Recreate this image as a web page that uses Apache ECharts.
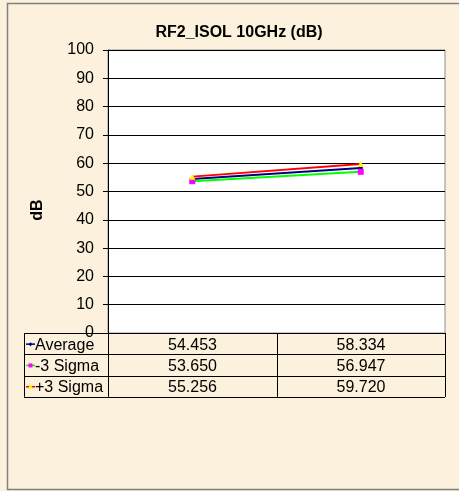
<!DOCTYPE html>
<html>
<head>
<meta charset="utf-8">
<script src="https://cdn.jsdelivr.net/npm/echarts@6/dist/echarts.min.js"></script>
<style>
html,body{margin:0;padding:0;background:#FBF1DC;}
#c{width:459px;height:491px;}
</style>
</head>
<body>
<div id="c"></div>
<script>
var categories = ['1', '2'];
var seriesNames = ['Average', '-3 Sigma', '+3 Sigma'];
var averageValues = [54.453, 58.334];
var minus3SigmaValues = [53.650, 56.947];
var plus3SigmaValues = [55.256, 59.720];
var tableLabels = [['54.453', '58.334'], ['53.650', '56.947'], ['55.256', '59.720']];
var titleText = 'RF2_ISOL 10GHz (dB)';
var yAxisName = 'dB';

var lineColors = ['#000080', '#00FF00', '#FF0000'];
var markerColors = ['#000080', '#FF00FF', '#FFFF00'];
var markerSymbols = ['diamond', 'rect', 'triangle'];
var markerSizes = [5, 6, 6];
var allValues = [averageValues, minus3SigmaValues, plus3SigmaValues];

var FONT = '"Liberation Sans", Arial, sans-serif';
var chart = echarts.init(document.getElementById('c'), null, {renderer: 'canvas'});

var plotLeft = 108, plotRight = 445, plotTop = 50, plotBottom = 333;
var tableLeft = 24, rowH = 21.3;
var midX = (plotLeft + plotRight) / 2 + 0.5;

var series = [];
for (var i = 0; i < 3; i++) {
  series.push({
    name: seriesNames[i],
    type: 'line',
    data: allValues[i],
    symbol: markerSymbols[i],
    symbolSize: markerSizes[i],
    lineStyle: {color: lineColors[i], width: 2},
    itemStyle: {color: markerColors[i]},
    z: 3 + i,
    animation: false
  });
}

var graphics = [];
graphics.push({type: 'rect', shape: {x: 7.5, y: 3.5, width: 470, height: 486}, style: {fill: null, stroke: '#808080', lineWidth: 1.5}, silent: true, z: 0});
graphics.push({type: 'rect', shape: {x: plotLeft, y: plotTop, width: plotRight - plotLeft, height: plotBottom - plotTop}, style: {fill: '#FFFFFF', stroke: '#909090', lineWidth: 1}, silent: true, z: -1});
graphics.push({type: 'text', x: 239, y: 33, style: {text: titleText, font: 'bold 16px ' + FONT, fill: '#000', textAlign: 'center', textVerticalAlign: 'middle'}, z: 10});
graphics.push({type: 'text', x: 38, y: 210, rotation: Math.PI / 2, style: {text: yAxisName, font: 'bold 16px ' + FONT, fill: '#000', textAlign: 'center', textVerticalAlign: 'middle'}, z: 10});

var colEdges = [tableLeft, plotLeft, midX, plotRight];
var tableBottom = plotBottom + rowH * 3;
for (var r = 0; r <= 3; r++) {
  var yy = Math.round(plotBottom + r * rowH) + 0.5;
  graphics.push({type: 'line', shape: {x1: tableLeft, y1: yy, x2: plotRight, y2: yy}, style: {stroke: '#000', lineWidth: 1}, z: 10});
}
for (var c = 0; c < colEdges.length; c++) {
  var xx = Math.round(colEdges[c]) + 0.5;
  graphics.push({type: 'line', shape: {x1: xx, y1: plotBottom, x2: xx, y2: tableBottom}, style: {stroke: '#000', lineWidth: 1}, z: 10});
}
for (var r2 = 0; r2 < 3; r2++) {
  var cy = plotBottom + (r2 + 0.5) * rowH + 0.5;
  graphics.push({type: 'line', shape: {x1: 26, y1: cy, x2: 35, y2: cy}, style: {stroke: lineColors[r2], lineWidth: 1.5}, z: 11});
  if (r2 === 2) {
    graphics.push({type: 'polygon', shape: {points: [[30.5, cy - 2.5], [33, cy + 2], [28, cy + 2]]}, style: {fill: markerColors[r2]}, z: 12});
  } else if (r2 === 1) {
    graphics.push({type: 'rect', shape: {x: 28.5, y: cy - 2, width: 4, height: 4}, style: {fill: markerColors[r2]}, z: 12});
  } else {
    graphics.push({type: 'polygon', shape: {points: [[30.5, cy - 2], [32.5, cy], [30.5, cy + 2], [28.5, cy]]}, style: {fill: markerColors[r2]}, z: 12});
  }
  graphics.push({type: 'text', x: 35, y: cy + 1, style: {text: seriesNames[r2], font: '16px ' + FONT, fill: '#000', textAlign: 'left', textVerticalAlign: 'middle'}, z: 11});
  for (var k = 0; k < 2; k++) {
    graphics.push({type: 'text', x: (colEdges[k + 1] + colEdges[k + 2]) / 2, y: cy + 1, style: {text: tableLabels[r2][k], font: '16px ' + FONT, fill: '#000', textAlign: 'center', textVerticalAlign: 'middle'}, z: 11});
  }
}

chart.setOption({
  animation: false,
  backgroundColor: '#FBF1DC',
  grid: {left: plotLeft, right: 459 - plotRight, top: plotTop, bottom: 491 - plotBottom, containLabel: false},
  xAxis: {
    type: 'category',
    data: categories,
    boundaryGap: true,
    axisLine: {show: true, lineStyle: {color: '#000', width: 1}},
    axisTick: {show: false},
    axisLabel: {show: false},
    splitLine: {show: false}
  },
  yAxis: {
    type: 'value',
    min: 0,
    max: 100,
    interval: 10,
    axisLine: {show: true, lineStyle: {color: '#000', width: 1}},
    axisTick: {show: true, length: 5, lineStyle: {color: '#000'}},
    axisLabel: {color: '#000', fontSize: 16, fontFamily: FONT, margin: 14},
    splitLine: {show: true, lineStyle: {color: '#000', width: 1}}
  },
  series: series,
  graphic: graphics
});
</script>
</body>
</html>
